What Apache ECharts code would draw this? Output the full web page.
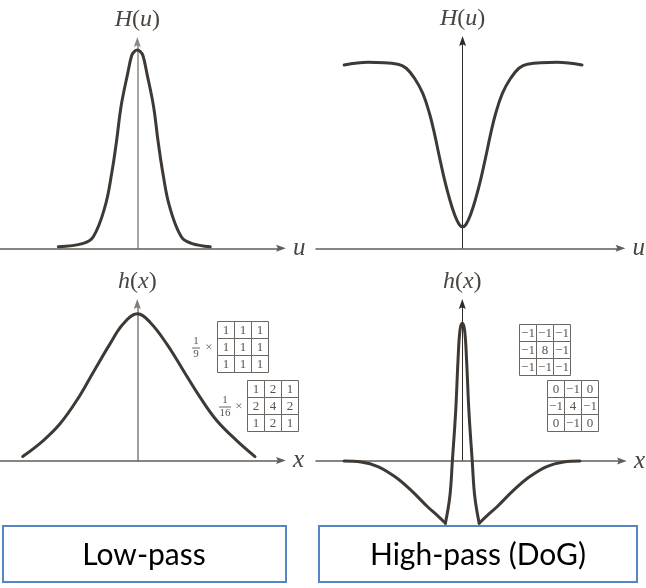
<!DOCTYPE html>
<html><head><meta charset="utf-8">
<script src="https://cdn.jsdelivr.net/npm/echarts@6/dist/echarts.min.js"></script>
<style>html,body{margin:0;padding:0;background:#fff}#c{width:646px;height:588px}</style>
</head><body><div id="c"></div>
<script>
// ---- data (x in arbitrary units, y normalised to peak) ----
const lowFreqU = [-7.9, -5.4, -4.4, -3.23, -2.56, -2.06, -1.63, -0.96, -0.56, -0.28, 0, 0.28, 0.56, 0.96, 1.63, 2.06, 2.56, 3.23, 4.4, 5.4, 7.3];
const lowFreqH = [0.008, 0.025, 0.058, 0.21, 0.378, 0.546, 0.714, 0.882, 0.972, 0.993, 1.0, 0.993, 0.972, 0.882, 0.714, 0.546, 0.378, 0.21, 0.058, 0.025, 0.008];

const highFreqU = [-11.9, -9.5, -6.5, -5.66, -4.83, -4.0, -3.33, -2.83, -2.33, -1.83, -1.33, -0.83, -0.33, 0, 0.33, 0.83, 1.33, 1.83, 2.33, 2.83, 3.33, 4.0, 4.83, 5.66, 6.5, 9.5, 12.0];
const highFreqH = [0.985, 1.0, 0.99, 0.968, 0.914, 0.833, 0.726, 0.618, 0.492, 0.372, 0.27, 0.185, 0.127, 0.116, 0.127, 0.185, 0.27, 0.372, 0.492, 0.618, 0.726, 0.833, 0.914, 0.968, 0.99, 1.0, 0.985];

const lowSpatX = [-11.46, -9.4, -7.73, -6.06, -4.4, -2.73, -1.4, 0, 1.27, 2.94, 4.6, 6.27, 7.94, 9.94, 11.77];
const lowSpatH = [0.027, 0.136, 0.25, 0.409, 0.602, 0.795, 0.932, 1.0, 0.943, 0.795, 0.614, 0.432, 0.273, 0.136, 0.027];

const highSpatX = [-11.9, -10.2, -8.5, -6.8, -5.2, -3.5, -2.5, -1.7, -1.25, -1.0, -0.66, -0.43, -0.23, 0, 0.23, 0.43, 0.66, 1.0, 1.25, 1.7, 2.5, 3.5, 5.2, 6.8, 8.5, 10.2, 11.84];
const highSpatH = [0, -0.007, -0.04, -0.113, -0.21, -0.332, -0.397, -0.452, -0.254, 0, 0.37, 0.733, 0.951, 1.0, 0.951, 0.733, 0.37, 0, -0.254, -0.452, -0.397, -0.332, -0.21, -0.113, -0.04, -0.007, 0];

const kernelBox   = [[1,1,1],[1,1,1],[1,1,1]];
const kernelGauss = [[1,2,1],[2,4,2],[1,2,1]];
const kernelLap8  = [[-1,-1,-1],[-1,8,-1],[-1,-1,-1]];
const kernelLap4  = [[0,-1,0],[-1,4,-1],[0,-1,0]];
const fracBox = ['1', '9'];
const fracGauss = ['1', '16'];

const axisNamesY = ['H(u)', 'H(u)', 'h(x)', 'h(x)'];
const axisNamesX = ['u', 'u', 'x', 'x'];
const panelLabels = ['Low-pass', 'High-pass (DoG)'];

// ---- chart ----
const chart = echarts.init(document.getElementById('c'));
const pairs = (xs, ys) => xs.map((x, i) => [x, ys[i]]);

const SERIF = '"Liberation Serif", "DejaVu Serif", serif';
const INK = '#3e3934';
const ARROW = 'path://M5,0 L10,14 L5,11.5 L0,14 Z';

const grids = [
  {left: 0,   top: 42,  width: 281, height: 206.3},
  {left: 316, top: 41,  width: 306, height: 207.3},
  {left: 0,   top: 304, width: 281, height: 156.5},
  {left: 316, top: 304, width: 308, height: 157}
];
const xRanges = [[-13.73, 14.37], [-14.73, 15.87], [-13.73, 14.37], [-14.73, 16.07]];
const yMax = [1.04, 1.1145, 1.067, 1.14];
const vColors = ['#8c8781', '#2f2b28', '#807b76', '#2f2b28'];
const vWidths = [1.5, 1, 1.5, 1];

function richName(s) {
  return s.replace(/([A-Za-z])/g, '{i|$1}').replace(/([()])/g, '{n|$1}');
}
const nameRich = {
  i: {fontFamily: SERIF, fontStyle: 'italic', fontSize: 24, color: '#4a4540'},
  n: {fontFamily: SERIF, fontSize: 24, color: '#4a4540'}
};

const xAxes = grids.map((g, k) => ({
  type: 'value', gridIndex: k, min: xRanges[k][0], max: xRanges[k][1],
  axisTick: {show: false}, axisLabel: {show: false}, splitLine: {show: false},
  axisLine: {show: true, onZero: true, symbol: ['none', ARROW], symbolSize: [7, 12],
    lineStyle: {color: '#625d58', width: 1.5}},
  name: axisNamesX[k], nameLocation: 'end', nameGap: 12,
  nameTextStyle: {fontFamily: SERIF, fontStyle: 'italic', fontSize: 25, color: '#4a4540'}
}));
const yAxes = grids.map((g, k) => ({
  type: 'value', gridIndex: k, min: 0, max: yMax[k],
  axisTick: {show: false}, axisLabel: {show: false}, splitLine: {show: false},
  axisLine: {show: true, onZero: true, symbol: ['none', ARROW], symbolSize: [7, 12],
    lineStyle: {color: vColors[k], width: vWidths[k]}},
  name: richName(axisNamesY[k]), nameLocation: 'end', nameGap: 10,
  nameTextStyle: {rich: nameRich}
}));

function lineSeries(data, k) {
  return {
    type: 'line', xAxisIndex: k, yAxisIndex: k, data: data,
    smooth: 0.4, showSymbol: false, clip: false, silent: true,
    lineStyle: {color: INK, width: 3, join: 'round', cap: 'round'}, z: 3
  };
}

const series = [
  lineSeries(pairs(lowFreqU, lowFreqH), 0),
  lineSeries(pairs(highFreqU, highFreqH), 1),
  lineSeries(pairs(lowSpatX, lowSpatH), 2)
];
// DoG curve: split at its two sharp minima so the smoothing keeps the V-shaped tips
const dog = pairs(highSpatX, highSpatH);
let minL = 0, minR = dog.length - 1;
dog.forEach((p, i) => { if (p[0] < 0 && p[1] < dog[minL][1]) minL = i; });
dog.forEach((p, i) => { if (p[0] > 0 && p[1] < dog[minR][1]) minR = i; });
series.push(lineSeries(dog.slice(0, minL + 1), 3));
series.push(lineSeries(dog.slice(minL, minR + 1), 3));
series.push(lineSeries(dog.slice(minR), 3));

// ---- kernel tables ----
const CELL = 17;
const fmt = v => (v < 0 ? '\u2212' + Math.abs(v) : String(v));
function matrix(m, x0, y0) {
  const out = [];
  m.forEach((row, r) => row.forEach((v, c) => {
    out.push({type: 'rect', shape: {x: x0 + c * CELL, y: y0 + r * CELL, width: CELL, height: CELL},
      style: {fill: '#fff', stroke: '#6b6661', lineWidth: 1}, z: 10});
    out.push({type: 'text', x: x0 + c * CELL + CELL / 2, y: y0 + r * CELL + CELL / 2 + 0.5,
      style: {text: fmt(v), font: '13px ' + SERIF, fill: '#555', align: 'center', verticalAlign: 'middle'}, z: 11});
  }));
  return out;
}
function fraction(f, cx, cy, timesX) {
  const w = f[1].length > 1 ? 12 : 8;
  return [
    {type: 'text', x: cx, y: cy - 6, style: {text: f[0], font: '11px ' + SERIF, fill: '#555', align: 'center', verticalAlign: 'middle'}, z: 11},
    {type: 'line', shape: {x1: cx - w / 2, y1: cy + 0.5, x2: cx + w / 2, y2: cy + 0.5}, style: {stroke: '#666', lineWidth: 1}, z: 11},
    {type: 'text', x: cx, y: cy + 7, style: {text: f[1], font: '11px ' + SERIF, fill: '#555', align: 'center', verticalAlign: 'middle'}, z: 11},
    {type: 'text', x: timesX, y: cy, style: {text: '\u00d7', font: '13px ' + SERIF, fill: '#666', align: 'center', verticalAlign: 'middle'}, z: 11}
  ];
}

const graphics = [].concat(
  matrix(kernelBox, 217.5, 321.5),
  fraction(fracBox, 196, 347.5, 209),
  matrix(kernelGauss, 247.5, 380.5),
  fraction(fracGauss, 225, 406.5, 239),
  matrix(kernelLap8, 519.5, 324.5),
  matrix(kernelLap4, 547.5, 380.5),
  [
    {type: 'rect', shape: {x: 3, y: 526, width: 283, height: 56}, style: {fill: '#fff', stroke: '#5585c4', lineWidth: 2}, z: 20},
    {type: 'text', x: 144, y: 555, style: {text: panelLabels[0], font: '30px Lato', fill: '#000', align: 'center', verticalAlign: 'middle'}, z: 21},
    {type: 'rect', shape: {x: 319, y: 526, width: 318, height: 56}, style: {fill: '#fff', stroke: '#5585c4', lineWidth: 2}, z: 20},
    {type: 'text', x: 478, y: 555, style: {text: panelLabels[1], font: '30px Lato', fill: '#000', align: 'center', verticalAlign: 'middle'}, z: 21}
  ]
);

chart.setOption({
  backgroundColor: '#fff',
  animation: false,
  grid: grids,
  xAxis: xAxes,
  yAxis: yAxes,
  series: series,
  graphic: graphics
});
</script></body></html>
